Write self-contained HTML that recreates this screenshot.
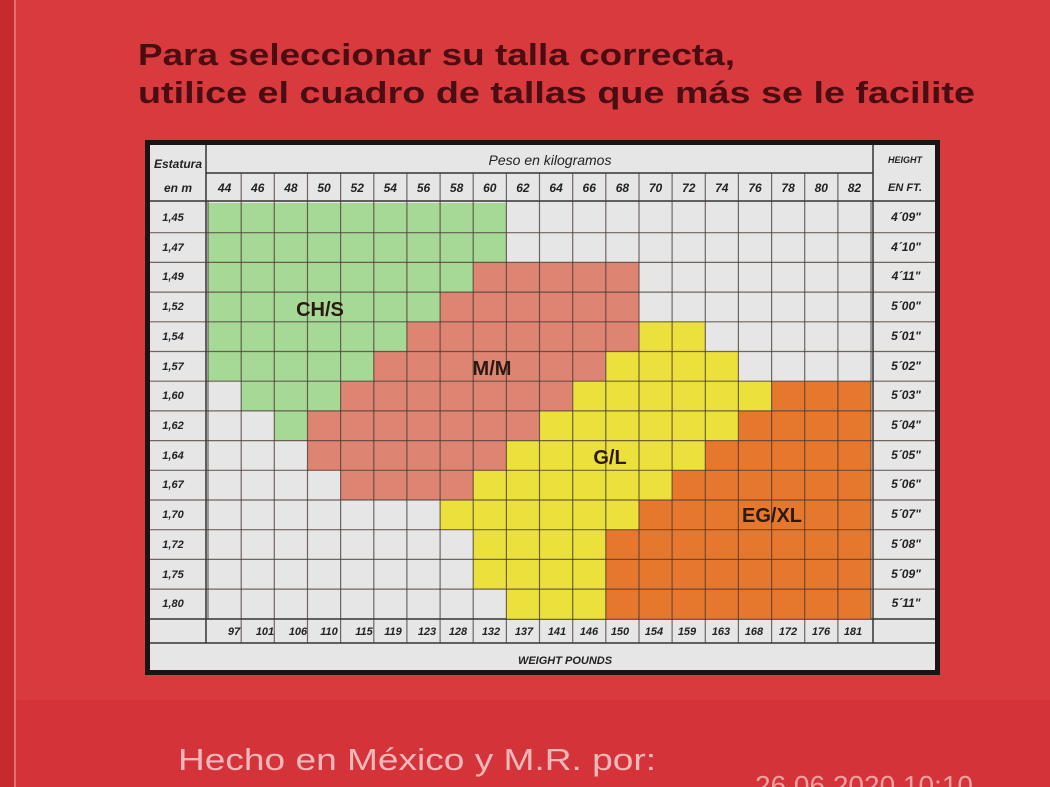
<!DOCTYPE html>
<html><head><meta charset="utf-8"><style>
html,body{margin:0;padding:0;width:1050px;height:787px;overflow:hidden;background:#d8383c}
svg{display:block}
text{font-family:"Liberation Sans",sans-serif}
</style></head><body>
<svg width="1050" height="787" viewBox="0 0 1050 787" xmlns="http://www.w3.org/2000/svg">
<rect width="1050" height="787" fill="#d93a3e"/>
<rect x="0" y="0" width="14" height="787" fill="#c42a2e"/>
<rect x="14" y="0" width="2" height="787" fill="#e07070"/>
<rect x="16" y="700" width="1034" height="87" fill="#d4333a"/>
<text x="138" y="65" font-size="31" font-weight="bold" fill="#4a0d12" textLength="597" lengthAdjust="spacingAndGlyphs">Para seleccionar su talla correcta,</text>
<text x="138" y="103" font-size="31" font-weight="bold" fill="#4a0d12" textLength="837" lengthAdjust="spacingAndGlyphs">utilice el cuadro de tallas que más se le facilite</text>
<text x="178" y="770" font-size="31" fill="#f0b8b8" textLength="478" lengthAdjust="spacingAndGlyphs">Hecho en México y M.R. por:</text>
<text x="755" y="795" font-size="28" fill="#f0a0a0">26 06 2020 10:10</text>

<rect x="145" y="140" width="795" height="535" fill="#1a1414"/>
<rect x="150" y="145" width="785" height="525" fill="#e6e6e6"/>
<g stroke="#333" stroke-width="1.5" fill="none">
<line x1="206" y1="145" x2="206" y2="643"/>
<line x1="873" y1="145" x2="873" y2="643"/>
<line x1="206" y1="173" x2="873" y2="173"/>
<line x1="150" y1="201" x2="935" y2="201"/>
<line x1="150" y1="619" x2="935" y2="619"/>
<line x1="150" y1="643" x2="935" y2="643"/>
</g>
<text x="178" y="168" font-size="12" font-style="italic" font-weight="bold" fill="#222" text-anchor="middle">Estatura</text>
<text x="178" y="192" font-size="12" font-style="italic" font-weight="bold" fill="#222" text-anchor="middle">en m</text>
<text x="550" y="165" font-size="14" font-style="italic" fill="#222" text-anchor="middle">Peso en kilogramos</text>
<text x="905" y="163" font-size="9" font-style="italic" font-weight="bold" fill="#222" text-anchor="middle">HEIGHT</text>
<text x="905" y="191" font-size="11" font-style="italic" font-weight="bold" fill="#222" text-anchor="middle">EN  FT.</text>
<text x="565" y="664" font-size="11" font-style="italic" font-weight="bold" fill="#222" text-anchor="middle">WEIGHT POUNDS</text>

<g fill="#a6d896">
<rect x="208" y="203" width="298.4" height="59.4"/>
<rect x="208" y="262.4" width="265.2" height="29.7"/>
<rect x="208" y="292.1" width="232.1" height="29.7"/>
<rect x="208" y="321.8" width="198.9" height="29.7"/>
<rect x="208" y="351.5" width="165.8" height="29.7"/>
<rect x="241.2" y="381.2" width="99.4" height="29.7"/>
<rect x="274.3" y="410.9" width="33.2" height="29.7"/>
</g>
<g fill="#de8472">
<rect x="473.2" y="262.4" width="165.8" height="29.7"/>
<rect x="440.1" y="292.1" width="198.9" height="29.7"/>
<rect x="406.9" y="321.8" width="232.1" height="29.7"/>
<rect x="373.8" y="351.5" width="232" height="29.7"/>
<rect x="340.6" y="381.2" width="232.1" height="29.7"/>
<rect x="307.5" y="410.9" width="232" height="29.7"/>
<rect x="307.5" y="440.6" width="198.9" height="29.7"/>
<rect x="340.6" y="470.3" width="132.6" height="29.7"/>
</g>
<g fill="#ece03c">
<rect x="639" y="321.8" width="66.3" height="29.7"/>
<rect x="605.8" y="351.5" width="132.6" height="29.7"/>
<rect x="572.7" y="381.2" width="198.9" height="29.7"/>
<rect x="539.5" y="410.9" width="198.9" height="29.7"/>
<rect x="506.4" y="440.6" width="198.9" height="29.7"/>
<rect x="473.2" y="470.3" width="198.9" height="29.7"/>
<rect x="440.1" y="500" width="198.9" height="29.7"/>
<rect x="473.2" y="529.7" width="132.6" height="59.4"/>
<rect x="506.4" y="589.1" width="99.4" height="29.7"/>
</g>
<g fill="#e6782e">
<rect x="771.6" y="381.2" width="99.4" height="29.7"/>
<rect x="738.4" y="410.9" width="132.6" height="29.7"/>
<rect x="705.3" y="440.6" width="165.7" height="29.7"/>
<rect x="672.1" y="470.3" width="198.9" height="29.7"/>
<rect x="639" y="500" width="232" height="29.7"/>
<rect x="605.8" y="529.7" width="265.2" height="89.1"/>
</g>

<g stroke="#4a3a34" stroke-width="1.2" stroke-opacity="0.75">
<line x1="241.2" y1="173" x2="241.2" y2="643"/><line x1="274.3" y1="173" x2="274.3" y2="643"/>
<line x1="307.5" y1="173" x2="307.5" y2="643"/><line x1="340.6" y1="173" x2="340.6" y2="643"/>
<line x1="373.8" y1="173" x2="373.8" y2="643"/><line x1="406.9" y1="173" x2="406.9" y2="643"/>
<line x1="440.1" y1="173" x2="440.1" y2="643"/><line x1="473.2" y1="173" x2="473.2" y2="643"/>
<line x1="506.4" y1="173" x2="506.4" y2="643"/><line x1="539.5" y1="173" x2="539.5" y2="643"/>
<line x1="572.7" y1="173" x2="572.7" y2="643"/><line x1="605.8" y1="173" x2="605.8" y2="643"/>
<line x1="639" y1="173" x2="639" y2="643"/><line x1="672.1" y1="173" x2="672.1" y2="643"/>
<line x1="705.3" y1="173" x2="705.3" y2="643"/><line x1="738.4" y1="173" x2="738.4" y2="643"/>
<line x1="771.6" y1="173" x2="771.6" y2="643"/><line x1="804.7" y1="173" x2="804.7" y2="643"/>
<line x1="837.9" y1="173" x2="837.9" y2="643"/><line x1="208" y1="201" x2="208" y2="619"/>
<line x1="871" y1="201" x2="871" y2="619"/>
<line x1="150" y1="232.7" x2="935" y2="232.7"/><line x1="150" y1="262.4" x2="935" y2="262.4"/>
<line x1="150" y1="292.1" x2="935" y2="292.1"/><line x1="150" y1="321.8" x2="935" y2="321.8"/>
<line x1="150" y1="351.5" x2="935" y2="351.5"/><line x1="150" y1="381.2" x2="935" y2="381.2"/>
<line x1="150" y1="410.9" x2="935" y2="410.9"/><line x1="150" y1="440.6" x2="935" y2="440.6"/>
<line x1="150" y1="470.3" x2="935" y2="470.3"/><line x1="150" y1="500" x2="935" y2="500"/>
<line x1="150" y1="529.7" x2="935" y2="529.7"/><line x1="150" y1="559.4" x2="935" y2="559.4"/>
<line x1="150" y1="589.1" x2="935" y2="589.1"/>
</g>

<g font-size="20" font-weight="bold" fill="#2a1a10" text-anchor="middle">
<text x="320" y="316">CH/S</text>
<text x="492" y="375">M/M</text>
<text x="610" y="464">G/L</text>
<text x="772" y="522">EG/XL</text>
</g>

<g font-size="12" font-style="italic" font-weight="bold" fill="#222" text-anchor="middle">
<text x="224.6" y="192">44</text><text x="257.7" y="192">46</text><text x="290.9" y="192">48</text>
<text x="324" y="192">50</text><text x="357.2" y="192">52</text><text x="390.3" y="192">54</text>
<text x="423.5" y="192">56</text><text x="456.6" y="192">58</text><text x="489.8" y="192">60</text>
<text x="522.9" y="192">62</text><text x="556.1" y="192">64</text><text x="589.2" y="192">66</text>
<text x="622.4" y="192">68</text><text x="655.5" y="192">70</text><text x="688.7" y="192">72</text>
<text x="721.8" y="192">74</text><text x="755" y="192">76</text><text x="788.1" y="192">78</text>
<text x="821.3" y="192">80</text><text x="854.4" y="192">82</text>
</g>
<g font-size="11" font-style="italic" font-weight="bold" fill="#222" text-anchor="middle">
<text x="234" y="635">97</text><text x="265" y="635">101</text><text x="298" y="635">106</text>
<text x="329" y="635">110</text><text x="364" y="635">115</text><text x="393" y="635">119</text>
<text x="427" y="635">123</text><text x="458" y="635">128</text><text x="491" y="635">132</text>
<text x="524" y="635">137</text><text x="557" y="635">141</text><text x="589" y="635">146</text>
<text x="620" y="635">150</text><text x="654" y="635">154</text><text x="687" y="635">159</text>
<text x="721" y="635">163</text><text x="754" y="635">168</text><text x="788" y="635">172</text>
<text x="821" y="635">176</text><text x="853" y="635">181</text>
</g>
<g font-size="11" font-style="italic" font-weight="bold" fill="#222" text-anchor="middle">
<text x="173" y="221">1,45</text><text x="173" y="251">1,47</text><text x="173" y="280">1,49</text>
<text x="173" y="310">1,52</text><text x="173" y="340">1,54</text><text x="173" y="370">1,57</text>
<text x="173" y="399">1,60</text><text x="173" y="429">1,62</text><text x="173" y="459">1,64</text>
<text x="173" y="488">1,67</text><text x="173" y="518">1,70</text><text x="173" y="548">1,72</text>
<text x="173" y="578">1,75</text><text x="173" y="607">1,80</text>
</g>
<g font-size="12" font-style="italic" font-weight="bold" fill="#222" text-anchor="middle">
<text x="906" y="221">4´09"</text><text x="906" y="251">4´10"</text><text x="906" y="280">4´11"</text>
<text x="906" y="310">5´00"</text><text x="906" y="340">5´01"</text><text x="906" y="370">5´02"</text>
<text x="906" y="399">5´03"</text><text x="906" y="429">5´04"</text><text x="906" y="459">5´05"</text>
<text x="906" y="488">5´06"</text><text x="906" y="518">5´07"</text><text x="906" y="548">5´08"</text>
<text x="906" y="578">5´09"</text><text x="906" y="607">5´11"</text>
</g>
</svg>
</body></html>
